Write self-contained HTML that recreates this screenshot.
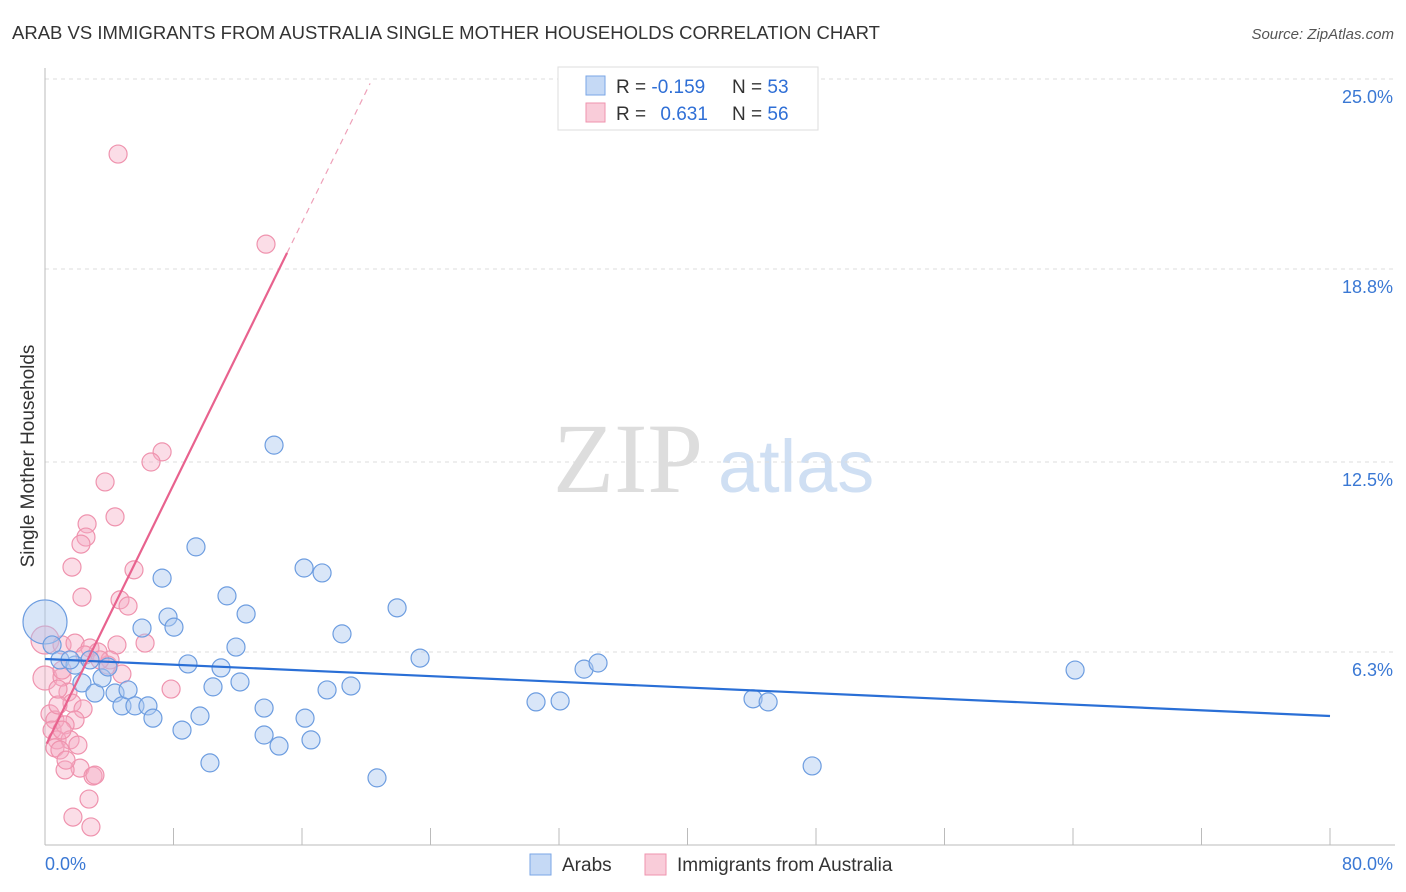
<!DOCTYPE html>
<html><head><meta charset="utf-8"><style>
body{margin:0;background:#fff;font-family:"Liberation Sans",sans-serif}
svg{display:block}
</style></head><body>
<svg id="chart" width="1406" height="892">
<text x="12" y="39" font-size="18.5" fill="#333">ARAB VS IMMIGRANTS FROM AUSTRALIA SINGLE MOTHER HOUSEHOLDS CORRELATION CHART</text>
<text x="1394" y="39" font-size="15" fill="#555" font-style="italic" text-anchor="end">Source: ZipAtlas.com</text>
<text x="553" y="492" font-size="100" fill="#ddd" font-family="Liberation Serif,serif">ZIP</text>
<text x="718" y="492" font-size="74" fill="#cfdff3">atlas</text>
<text transform="translate(34,456) rotate(-90)" font-size="19" fill="#333" text-anchor="middle">Single Mother Households</text>
<g id="grid"></g><g id="ticks"></g><g id="pts"></g><g id="lines"></g>
<g>
<rect x="558" y="67" width="260" height="63" fill="#fff" stroke="#ddd"/>
<rect x="586" y="76" width="19" height="19" fill="#c5d9f5" stroke="#7aa6e6"/>
<rect x="586" y="103" width="19" height="19" fill="#f9ccd9" stroke="#ef93ae"/>
<text x="616" y="93" font-size="19" fill="#333">R = <tspan fill="#2f6fd6">-0.159</tspan></text>
<text x="732" y="93" font-size="19" fill="#333">N = <tspan fill="#2f6fd6">53</tspan></text>
<text x="616" y="120" font-size="19" fill="#333">R = <tspan fill="#2f6fd6" dx="9">0.631</tspan></text>
<text x="732" y="120" font-size="19" fill="#333">N = <tspan fill="#2f6fd6">56</tspan></text>
</g>
<g>
<rect x="530" y="854" width="21" height="21" fill="#c5d9f5" stroke="#7aa6e6"/>
<text x="562" y="871" font-size="19" fill="#333">Arabs</text>
<rect x="645" y="854" width="21" height="21" fill="#f9ccd9" stroke="#ef93ae"/>
<text x="677" y="871" font-size="19" fill="#333">Immigrants from Australia</text>
</g>
</svg>
<script>
const yTicks=[25.0,18.8,12.5,6.3];
const yTickLabels=["25.0%","18.8%","12.5%","6.3%"];
const xTicks=[0,8,16,24,32,40,48,56,64,72,80];
const arabX=[0,0.44,0.93,1.87,1.56,2.30,3.11,3.55,3.92,4.36,4.79,5.17,5.60,6.04,6.41,6.72,7.29,7.66,8.03,8.53,8.90,9.40,9.65,10.27,10.46,10.96,11.33,11.89,12.14,12.52,13.64,13.64,14.26,14.57,16.13,16.19,16.56,17.25,17.56,18.49,19.05,20.67,21.92,23.35,30.57,32.07,33.56,34.43,44.08,45.02,47.76,64.13,2.80];
const arabY=[7.28,6.53,6.04,5.87,6.04,5.29,4.96,5.45,5.81,4.96,4.54,5.06,4.54,7.08,4.54,4.14,8.71,7.44,7.11,3.75,5.91,9.73,4.21,2.68,5.16,5.78,8.13,6.46,5.32,7.54,4.47,3.59,13.05,3.23,9.04,4.14,3.43,8.88,5.06,6.89,5.19,2.19,7.74,6.10,4.67,4.70,5.74,5.94,4.77,4.67,2.58,5.71,6.04];
const ausX=[4.55,13.76,7.29,6.60,3.74,4.36,2.62,2.55,2.24,1.68,5.54,2.30,4.67,5.17,0,1.06,1.87,2.80,3.30,2.49,4.48,6.23,3.92,4.79,0,1.06,1.43,7.85,1.68,2.37,0.31,0.62,1.87,0.44,1.25,0.75,1.56,0.62,0.93,2.18,1.25,2.99,2.74,1.74,2.86,0.81,1.06,2.05,1.31,3.11,0.81,4.05,3.42,1.06];
const ausY=[22.55,19.61,12.83,12.50,11.85,10.71,10.48,10.05,9.82,9.07,8.98,8.09,8.00,7.80,6.69,6.53,6.59,6.43,6.30,6.20,6.53,6.59,5.87,5.58,5.45,5.48,4.99,5.09,4.63,4.44,4.28,4.08,4.08,3.75,3.92,3.43,3.43,3.17,3.10,2.51,2.45,2.25,1.50,0.91,0.59,4.57,3.75,3.26,2.77,2.28,5.09,6.04,6.04,5.71];
const arabTrend=[6.07,4.21];
const ausTrend=[3.2,1.07];
const X=v=>45+v/80*1285, Y=v=>845-v*30.64;
const NS="http://www.w3.org/2000/svg";
function mk(p,t,a){const e=document.createElementNS(NS,t);for(const k in a)e.setAttribute(k,a[k]);p.appendChild(e);return e;}
const grid=document.getElementById('grid'),ticks=document.getElementById('ticks'),pts=document.getElementById('pts'),lines=document.getElementById('lines');
yTicks.forEach((v,i)=>{
 const l=mk(grid,'line',{x1:45,x2:1395,y1:Y(v),y2:Y(v),stroke:'#ddd','stroke-dasharray':'4,4'});
 
 
 const t=mk(ticks,'text',{x:1393,y:Y(v)+24,'font-size':18,fill:'#3a78d4','text-anchor':'end'});t.textContent=yTickLabels[i];
 
 
});
const ax=mk(ticks,'line',{x1:45,x2:45,y1:68,y2:845,stroke:'#bbb'});


const bx=mk(ticks,'line',{x1:45,x2:1395,y1:845,y2:845,stroke:'#bbb'});


xTicks.forEach(v=>{const t=mk(ticks,'line',{x1:X(v),x2:X(v),y1:828,y2:845,stroke:'#bbb'});
 
 });
const x0=mk(ticks,'text',{x:45,y:870,'font-size':18,fill:'#3a78d4'});x0.textContent='0.0%';


const x1=mk(ticks,'text',{x:1393,y:870,'font-size':18,fill:'#3a78d4','text-anchor':'end'});x1.textContent='80.0%';


ausX.forEach((v,i)=>{const r=i==14?14:(i==24?12:9);
 const c=mk(pts,'circle',{cx:X(v),cy:Y(ausY[i]),r:r,fill:'rgba(246,170,195,0.4)',stroke:'#ef93ae','stroke-width':1.2});
 
 });
arabX.forEach((v,i)=>{const r=i==0?22:9;
 const c=mk(pts,'circle',{cx:X(v),cy:Y(arabY[i]),r:r,fill:'rgba(170,200,240,0.45)',stroke:'#6d9de0','stroke-width':1.2});
 
 });
const bl=mk(lines,'line',{x1:X(0),y1:Y(arabTrend[0]),x2:X(80),y2:Y(arabTrend[1]),stroke:'#2a6fd6','stroke-width':2.2});


const xe=15.07, xd=20.24;
const pl=mk(lines,'line',{x1:X(0.1),y1:Y(ausTrend[0]+ausTrend[1]*0.1),x2:X(xe),y2:Y(ausTrend[0]+ausTrend[1]*xe),stroke:'#e8628e','stroke-width':2.2});


const pd=mk(lines,'line',{x1:X(xe),y1:Y(ausTrend[0]+ausTrend[1]*xe),x2:X(xd),y2:Y(ausTrend[0]+ausTrend[1]*xd),stroke:'#eea0b8','stroke-width':1.2,'stroke-dasharray':'6,5'});


</script>
</body></html>
